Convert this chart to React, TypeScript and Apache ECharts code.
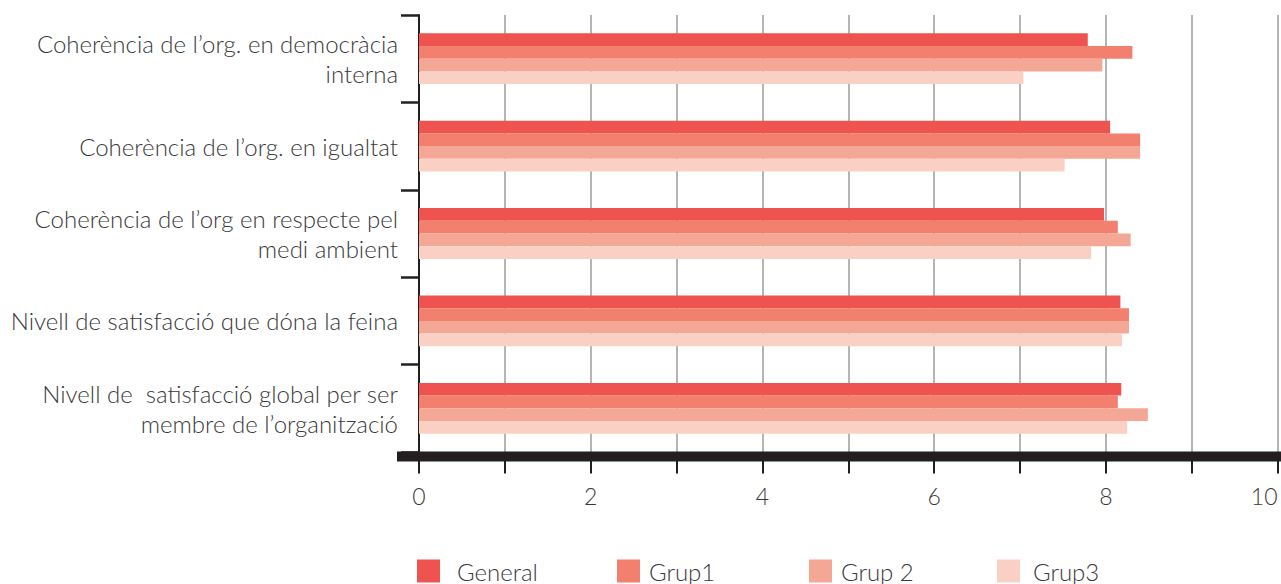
import React, { useEffect, useRef } from "react";
import * as echarts from "echarts";

const categories = [
  "Coherència de l’org. en democràcia\ninterna",
  "Coherència de l’org. en igualtat",
  "Coherència de l’org en respecte pel\nmedi ambient",
  "Nivell de satisfacció que dóna la feina",
  "Nivell de  satisfacció global per ser\nmembre de l’organització",
];

const seriesNames = ["General", "Grup1", "Grup 2", "Grup3"];
const general = [7.79, 8.05, 7.98, 8.17, 8.18];
const grup1 = [8.31, 8.4, 8.14, 8.27, 8.14];
const grup2 = [7.96, 8.4, 8.29, 8.27, 8.49];
const grup3 = [7.04, 7.52, 7.83, 8.19, 8.25];
const seriesValues = [general, grup1, grup2, grup3];
const colors = ["#ef5350", "#f37f6f", "#f5a796", "#fad0c4"];

const xTicks = [0, 2, 4, 6, 8, 10];

const legendLeft = [417, 617, 809, 997];
const legendTextGap = [12, 4, 4, 8];

const FONT = "Lato, 'Open Sans', sans-serif";
const TEXT_COLOR = "#3a3a3a";

export default function App() {
  const ref = useRef<HTMLDivElement>(null);

  useEffect(() => {
    document.body.style.margin = "0";
    if (!ref.current) return;
    const chart = echarts.init(ref.current, undefined, { renderer: "svg" });
    chart.setOption({
      animation: false,
      backgroundColor: "#ffffff",
      grid: { left: 419, right: 3.5, top: 15, bottom: 132, containLabel: false },
      xAxis: {
        type: "value",
        min: 0,
        max: 10,
        interval: 1,
        offset: 4.5,
        axisLine: { show: false },
        axisTick: { show: true, length: 17, lineStyle: { color: "#231f20", width: 2 } },
        splitLine: { show: true, lineStyle: { color: "#b5b5b5", width: 2 } },
        axisLabel: {
          margin: 28,
          fontFamily: FONT,
          fontWeight: 300,
          fontSize: 23,
          color: TEXT_COLOR,
          alignMaxLabel: "right",
          formatter: (v: number) => (xTicks.includes(v) ? String(v) : ""),
        },
      },
      yAxis: {
        type: "category",
        inverse: true,
        data: categories,
        axisLine: { show: true, lineStyle: { color: "#231f20", width: 2 } },
        axisTick: { show: true, length: 18, alignWithLabel: false, lineStyle: { color: "#231f20", width: 2.5 } },
        axisLabel: {
          margin: 21,
          fontFamily: FONT,
          fontWeight: 300,
          fontSize: 24,
          lineHeight: 30,
          color: TEXT_COLOR,
          align: "right",
        },
      },
      legend: seriesNames.map((name, i) => ({
        data: [name],
        left: legendLeft[i],
        top: 559,
        padding: 0,
        itemWidth: 23,
        itemHeight: 23,
        icon: "rect",
        selectedMode: false,
        textStyle: {
          fontFamily: FONT,
          fontWeight: 300,
          fontSize: 24,
          color: TEXT_COLOR,
          padding: [0, 0, 0, legendTextGap[i]],
        },
      })),
      graphic: [
        {
          type: "rect",
          z: 100,
          shape: { x: 397, y: 451.5, width: 884, height: 10 },
          style: { fill: "#231f20" },
        },
      ],
      series: seriesNames.map((name, i) => ({
        name,
        type: "bar",
        data: seriesValues[i],
        barWidth: 12.7,
        barGap: "0%",
        itemStyle: { color: colors[i] },
      })),
    });
    return () => chart.dispose();
  }, []);

  return <div ref={ref} style={{ width: 1281, height: 584 }} />;
}
